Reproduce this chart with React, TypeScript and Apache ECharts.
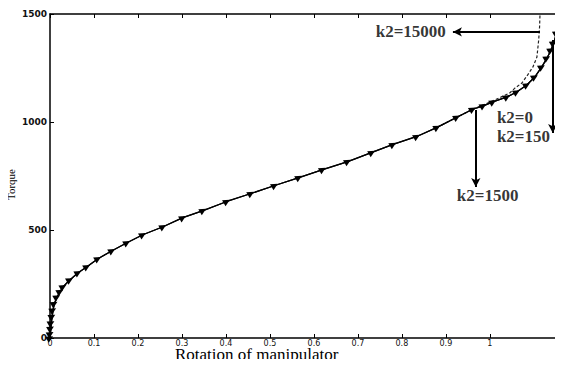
import React, { useEffect, useRef } from "react";
import * as echarts from "echarts";

// Rotation of manipulator (x) vs torque (y)
const k2zeroX = [0, 0.001, 0.002, 0.003, 0.005, 0.007, 0.01, 0.016, 0.023, 0.03, 0.045, 0.064, 0.084, 0.109, 0.141, 0.175, 0.211, 0.257, 0.302, 0.348, 0.402, 0.457, 0.511, 0.566, 0.62, 0.677, 0.732, 0.78, 0.834, 0.88, 0.925, 0.961, 0.985, 1.007, 1.039, 1.061, 1.084, 1.102, 1.118, 1.13, 1.139, 1.145, 1.152, 1.159, 1.162];
const k2zeroY = [0, 20, 45, 70, 100, 130, 160, 190, 215, 237, 269, 302, 330, 367, 404, 441, 478, 515, 557, 590, 632, 669, 706, 743, 780, 817, 859, 896, 933, 975, 1022, 1059, 1075, 1093, 1116, 1139, 1171, 1208, 1255, 1296, 1333, 1366, 1412, 1458, 1500];

const k2bigX = [0.88, 0.925, 0.961, 1.0, 1.025, 1.045, 1.057, 1.073, 1.086, 1.098, 1.107, 1.111, 1.113, 1.114];
const k2bigY = [975, 1022, 1059, 1092, 1115, 1134, 1157, 1181, 1218, 1255, 1301, 1380, 1440, 1500];

const xTicks = [0, 0.1, 0.2, 0.3, 0.4, 0.5, 0.6, 0.7, 0.8, 0.9, 1];
const yTicks = [0, 500, 1000, 1500];

// annotation arrows: start and end points (arrow head at the end point)
const arrowStarts = [[1.114, 1417], [1.143, 1380], [0.968, 1056]];
const arrowEnds = [[0.916, 1417], [1.143, 949], [0.968, 699]];

const annoTexts = ["k2=15000", "k2=0", "k2=150", "k2=1500"];
const annoPos = [[0.9, 1417], [1.016, 1019], [1.016, 931], [0.925, 662]];
const annoAlign = ["right", "left", "left", "left"];

const X_MAX = 1.164;

export default function App() {
  const ref = useRef<HTMLDivElement>(null);
  useEffect(() => {
    if (!ref.current) return;
    const chart = echarts.init(ref.current, null, { renderer: "svg" });
    const pair = (xs: number[], ys: number[]) => xs.map((x, i) => [x, ys[i]]);
    const axisFont = "DejaVu Sans";
    const serif = "Liberation Serif";
    chart.setOption({
      animation: false,
      backgroundColor: "#ffffff",
      grid: { left: 50, right: 1, top: 14, bottom: 29, containLabel: false },
      xAxis: [
        {
          type: "value",
          min: 0,
          max: X_MAX,
          position: "bottom",
          axisLine: { show: true, onZero: false, lineStyle: { color: "#000", width: 1.5 } },
          axisTick: { show: true, inside: true, length: 4, customValues: xTicks, lineStyle: { color: "#000" } },
          axisLabel: {
            customValues: xTicks,
            color: "#111",
            fontSize: 8,
            lineHeight: 8,
            fontFamily: axisFont,
            margin: 1,
            formatter: (v: number) => String(v),
          },
          splitLine: { show: false },
        },
        {
          type: "value",
          min: 0,
          max: X_MAX,
          position: "top",
          axisLine: { show: true, onZero: false, lineStyle: { color: "#000", width: 1.5 } },
          axisTick: { show: true, inside: true, length: 4, customValues: xTicks, lineStyle: { color: "#000" } },
          axisLabel: { show: false },
          splitLine: { show: false },
        },
      ],
      yAxis: [
        {
          type: "value",
          min: 0,
          max: 1500,
          interval: 500,
          position: "left",
          axisLine: { show: true, onZero: false, lineStyle: { color: "#000", width: 1.5 } },
          axisTick: { show: true, inside: true, length: 4, customValues: yTicks, lineStyle: { color: "#000" } },
          axisLabel: {
            customValues: yTicks,
            color: "#111",
            fontSize: 9,
            fontWeight: "bold",
            fontFamily: axisFont,
            margin: 3,
            formatter: (v: number) => String(v),
          },
          splitLine: { show: false },
        },
        {
          type: "value",
          min: 0,
          max: 1500,
          interval: 500,
          position: "right",
          axisLine: { show: true, onZero: false, lineStyle: { color: "#000", width: 1.5 } },
          axisTick: { show: true, inside: true, length: 4, lineStyle: { color: "#000" } },
          axisLabel: { show: false },
          splitLine: { show: false },
        },
      ],
      series: [
        {
          name: "k2=15000",
          type: "line",
          data: pair(k2bigX, k2bigY),
          showSymbol: false,
          symbol: "none",
          lineStyle: { color: "#222", width: 1.2, type: [3, 2] },
        },
        {
          name: "k2=150",
          type: "line",
          data: pair(k2zeroX, k2zeroY),
          symbol: "none",
          lineStyle: { color: "#000", width: 1.3 },
        },
        {
          name: "k2=0",
          type: "line",
          data: pair(k2zeroX, k2zeroY),
          symbol: "triangle",
          symbolSize: 7,
          symbolRotate: -60,
          itemStyle: { color: "#000" },
          lineStyle: { color: "#000", width: 1.3 },
          markLine: {
            silent: true,
            symbol: ["none", "arrow"],
            symbolSize: [7, 9],
            lineStyle: { color: "#000", width: 2, type: "solid" },
            label: { show: false },
            data: arrowStarts.map((s, i) => [
              { coord: s },
              { coord: arrowEnds[i] },
            ]),
          },
        },
        {
          name: "labels",
          type: "scatter",
          data: annoPos.map((p, i) => ({
            value: p,
            label: {
              show: true,
              position: "inside",
              formatter: annoTexts[i],
              align: annoAlign[i],
              verticalAlign: "middle",
              color: "#000",
              fontSize: 17,
              fontWeight: "bold",
              fontFamily: serif,
            },
          })),
          symbolSize: 1,
          itemStyle: { color: "rgba(0,0,0,0)" },
        },
      ],
      graphic: [
        {
          type: "text",
          x: 175,
          y: 361,
          style: {
            text: "Rotation of manipulator",
            fontSize: 17,
            lineHeight: 13,
            fontFamily: serif,
            fill: "#000",
            textVerticalAlign: "bottom",
            verticalAlign: "bottom",
          },
        },
        {
          type: "text",
          x: 5,
          y: 200,
          rotation: Math.PI / 2,
          style: { text: "Torque", fontSize: 11, fontFamily: serif, fill: "#000" },
        },
      ],
    });
    return () => chart.dispose();
  }, []);
  return <div ref={ref} style={{ width: 563, height: 367, margin: -8 }} />;
}
